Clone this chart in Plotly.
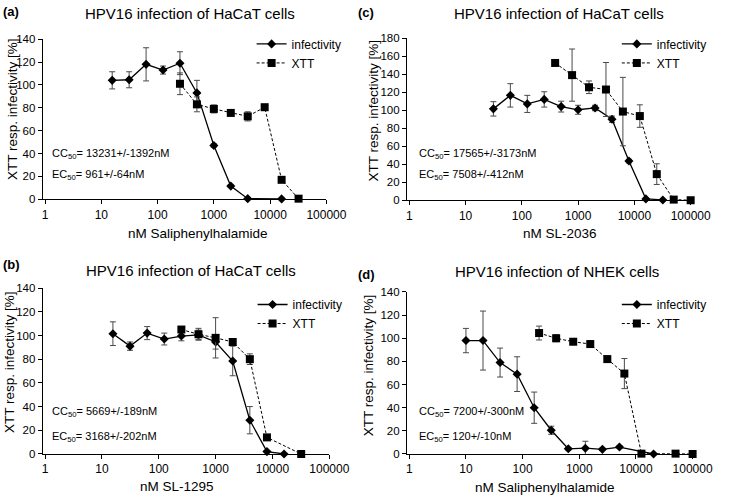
import plotly.graph_objects as go

W, H = 733, 500

# ---------------- data ----------------
a_inf_x = [15.625, 31.25, 62.5, 125, 250, 500, 1000, 2000, 4000, 16000]
a_inf_y = [104, 104.5, 118, 113, 119, 93, 47, 11.5, 0.5, 0.3]
a_inf_err = [7.5, 7, 14.5, 3.5, 10, 11, 1.5, 1, 0.5, 0.5]
a_xtt_x = [250, 500, 1000, 2000, 4000, 8000, 16000, 32000]
a_xtt_y = [101, 83, 79, 75.5, 72.5, 80.5, 17, 0.5]
a_xtt_err = [9.5, 6.5, 3.5, 2, 4, 2.5, 1.5, 0.5]

b_inf_x = [15.625, 31.25, 62.5, 125, 250, 500, 1000, 2000, 4000, 8000, 16000]
b_inf_y = [101.5, 91, 102, 97, 99.5, 100.5, 94.5, 78.5, 28.5, 2, 0]
b_inf_err = [10, 3.5, 5.5, 5, 4, 4, 6, 12.5, 11.5, 0.5, 0.3]
b_xtt_x = [250, 500, 1000, 2000, 4000, 8000, 32000]
b_xtt_y = [105, 101, 98, 94.5, 80, 14, 0]
b_xtt_err = [1.5, 5, 17, 2, 4.5, 1.5, 0.3]

c_inf_x = [31.25, 62.5, 125, 250, 500, 1000, 2000, 4000, 8000, 16000, 32000]
c_inf_y = [101.5, 116.5, 107, 112, 104, 100.5, 102.5, 90, 43.5, 1.5, 0.3]
c_inf_err = [8, 13, 9.5, 8.5, 6, 5, 3, 3.5, 2, 1, 0.3]
c_xtt_x = [390.625, 781.25, 1562.5, 3125, 6250, 12500, 25000, 50000, 100000]
c_xtt_y = [152.5, 139, 125.5, 123, 98.5, 93.5, 29, 0.7, 0]
c_xtt_err = [1.5, 29, 7, 30, 38, 12.5, 11.5, 0.5, 0.3]

d_inf_x = [10, 20, 40, 80, 160, 320, 640, 1280, 2560, 5120, 20480]
d_inf_y = [98, 98, 79, 69, 40, 20.5, 4.5, 5, 4, 6, 0]
d_inf_err = [10.5, 25.5, 12.5, 15, 13.5, 3.5, 1, 6, 1, 1, 0.3]
d_xtt_x = [195.3, 390.625, 781.25, 1562.5, 3125, 6250, 12500, 50000, 100000]
d_xtt_y = [104.5, 100, 97, 95, 82, 69.5, 0.3, 0.3, 0]
d_xtt_err = [6, 3, 2, 2.5, 2.5, 13, 0.5, 0.3, 0.3]

x_tick_vals = [1, 10, 100, 1000, 10000, 100000]
x_tick_text = ["1", "10", "100", "1000", "10000", "100000"]

panels = [
    dict(key="a", title="HPV16 infection of HaCaT cells", xlabel="nM Saliphenylhalamide",
         cc="13231+/-1392nM", ec="961+/-64nM", ymax=140,
         inf=(a_inf_x, a_inf_y, a_inf_err), xtt=(a_xtt_x, a_xtt_y, a_xtt_err)),
    dict(key="c", title="HPV16 infection of HaCaT cells", xlabel="nM SL-2036",
         cc="17565+/-3173nM", ec="7508+/-412nM", ymax=180,
         inf=(c_inf_x, c_inf_y, c_inf_err), xtt=(c_xtt_x, c_xtt_y, c_xtt_err)),
    dict(key="b", title="HPV16 infection of HaCaT cells", xlabel="nM SL-1295",
         cc="5669+/-189nM", ec="3168+/-202nM", ymax=140,
         inf=(b_inf_x, b_inf_y, b_inf_err), xtt=(b_xtt_x, b_xtt_y, b_xtt_err)),
    dict(key="d", title="HPV16 infection of NHEK cells", xlabel="nM Saliphenylhalamide",
         cc="7200+/-300nM", ec="120+/-10nM", ymax=140,
         inf=(d_inf_x, d_inf_y, d_inf_err), xtt=(d_xtt_x, d_xtt_y, d_xtt_err)),
]

# ---------------- layout geometry (pixels) ----------------
geom = {
    "a": dict(x0=43, x1=335, ytop=34, ybot=198, title=(195, 8), lab=(0, 6),
              xt=(203, 233), yt=(12, 106), leg=(258, 24), cc=(50, 152), ec=(50, 173)),
    "c": dict(x0=418, x1=710, ytop=33, ybot=199, title=(574, 8), lab=(365, 7),
              xt=(576, 233), yt=(383, 107), leg=(634, 24), cc=(428, 152), ec=(428, 173)),
    "b": dict(x0=43, x1=338, ytop=289, ybot=459, title=(196, 271), lab=(0, 265),
              xt=(181, 492), yt=(8, 365), leg=(259, 291), cc=(50, 416), ec=(50, 442)),
    "d": dict(x0=418, x1=712, ytop=293, ybot=459, title=(572, 272), lab=(365, 275),
              xt=(560, 493), yt=(378, 368), leg=(634, 291), cc=(428, 416), ec=(428, 442)),
}

FONT = "Liberation Sans, Arial, sans-serif"

def px(x):
    return x / W

def py(y):
    return 1 - y / H

fig = go.Figure()
annotations = []
layout = dict(
    width=W, height=H, margin=dict(l=0, r=0, t=0, b=0),
    paper_bgcolor="white", plot_bgcolor="white",
    font=dict(family=FONT, size=12, color="black"),
)

err_style = dict(type="data", color="#4a4a4a", thickness=1, width=3, visible=True)

for i, p in enumerate(panels):
    g = geom[p["key"]]
    n = "" if i == 0 else str(i + 1)
    xa, ya = "x" + n, "y" + n
    leg = "legend" + n
    ix, iy, ie = p["inf"]
    tx, ty, te = p["xtt"]
    fig.add_trace(go.Scatter(
        x=ix, y=iy, mode="lines+markers", name="infectivity",
        xaxis=xa, yaxis=ya, legend=leg, cliponaxis=False,
        line=dict(color="black", width=1.3),
        marker=dict(symbol="diamond", size=7, color="black"),
        error_y=dict(array=ie, **err_style)))
    fig.add_trace(go.Scatter(
        x=tx, y=ty, mode="lines+markers", name="XTT",
        xaxis=xa, yaxis=ya, legend=leg, cliponaxis=False,
        line=dict(color="black", width=1, dash="3px,2px"),
        marker=dict(symbol="square", size=8, color="black"),
        error_y=dict(array=te, **err_style)))

    layout["xaxis" + n] = dict(
        type="log", range=[-0.04, 5], domain=[px(g["x0"]), px(g["x1"])],
        anchor=ya, tickvals=x_tick_vals, ticktext=x_tick_text,
        showline=True, linecolor="black", linewidth=1.2, mirror=False,
        ticks="outside", ticklen=4, tickwidth=1.2, tickcolor="black",
        showgrid=False, zeroline=False, tickfont=dict(size=12, family=FONT))
    layout["yaxis" + n] = dict(
        range=[0, p["ymax"]], domain=[py(g["ybot"]), py(g["ytop"])],
        anchor=xa, dtick=20, tick0=0,
        showline=True, linecolor="black", linewidth=1.2,
        ticks="outside", ticklen=4, tickwidth=1.2, tickcolor="black",
        showgrid=False, zeroline=False, tickfont=dict(size=11.5, family=FONT))
    layout[leg] = dict(
        x=px(g["leg"][0]), y=py(g["leg"][1]), xanchor="left", yanchor="top",
        bgcolor="rgba(0,0,0,0)", font=dict(size=12, family=FONT),
        itemwidth=30, tracegroupgap=0)

    annotations += [
        dict(text=p["title"], x=px(g["title"][0]), y=py(g["title"][1]),
             xanchor="center", yanchor="middle", font=dict(size=15)),
        dict(text="<b>(" + p["key"] + ")</b>", x=px(g["lab"][0]), y=py(g["lab"][1]),
             xanchor="left", yanchor="middle", font=dict(size=13)),
        dict(text=p["xlabel"], x=px(g["xt"][0]), y=py(g["xt"][1]),
             xanchor="center", yanchor="middle", font=dict(size=13.5)),
        dict(text="XTT resp. infectivity [%]", x=px(g["yt"][0]), y=py(g["yt"][1]),
             xanchor="center", yanchor="middle", textangle=-90, font=dict(size=13.5)),
        dict(text="CC<sub>50</sub>= " + p["cc"], x=px(g["cc"][0]), y=py(g["cc"][1]),
             xanchor="left", yanchor="middle", font=dict(size=11)),
        dict(text="EC<sub>50</sub>= " + p["ec"], x=px(g["ec"][0]), y=py(g["ec"][1]),
             xanchor="left", yanchor="middle", font=dict(size=11)),
    ]

for a in annotations:
    a.update(xref="paper", yref="paper", showarrow=False)
layout["annotations"] = annotations
fig.update_layout(**layout)
fig.write_html("out.html", config={"displayModeBar": False})

# remove the browser's default 8px body margin so pixel positions match
with open("out.html", encoding="utf-8") as f:
    html = f.read()
html = html.replace("<head>", "<head><style>html,body{margin:0;padding:0;overflow:hidden;}</style>", 1)
with open("out.html", "w", encoding="utf-8") as f:
    f.write(html)
